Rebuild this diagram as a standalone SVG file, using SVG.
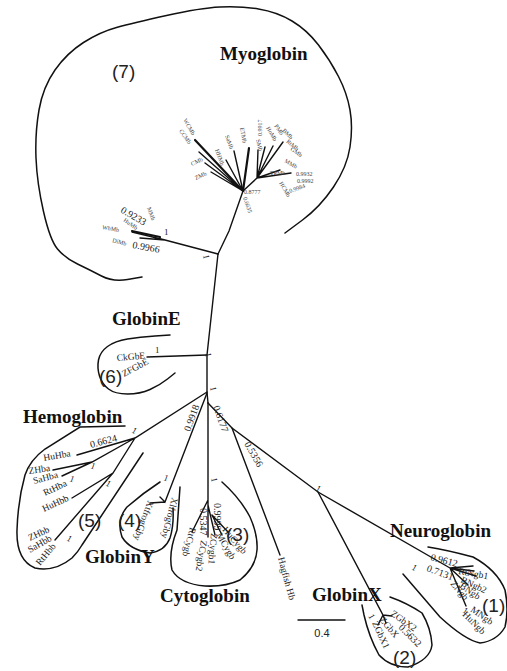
<svg xmlns="http://www.w3.org/2000/svg" width="507" height="671" viewBox="0 0 507 671">
<style>
.br{stroke:#111;stroke-width:1.4;fill:none;stroke-linecap:round}
.bt{stroke:#111;stroke-width:2.2;fill:none;stroke-linecap:round}
.ol{stroke:#111;stroke-width:1.5;fill:none;stroke-linecap:round}
.big{font-family:"Liberation Serif",serif;font-weight:bold;font-size:19px;fill:#111}
.num{font-family:"Liberation Sans",sans-serif;font-size:19px;fill:#222}
.lb{font-family:"Liberation Serif",serif;font-size:9.5px;fill:#222}
.nm{font-family:"Liberation Serif",serif;font-size:10px;fill:#222}
.tk{font-family:"Liberation Serif",serif;font-size:9px;fill:#222}
.sm{font-family:"Liberation Serif",serif;font-size:6px;fill:#444}
</style>
<rect width="507" height="671" fill="#fff"/>
<g id="connectors">
<path class="br" d="M218,254 L207,355 L207,392 L208,403"/>
<path class="br" d="M243,191 L229,231 L218,254"/>
<path class="br" d="M243,191 L199,152 M243,191 L205,163 M243,191 L211,172 M243,191 L226,160 M243,191 L234,151 M243,191 L257,178 M257,178 L258,150 M257,178 L265,147 M257,178 L273,146 M257,178 L283,142 M257,178 L291,173 M257,178 L280,170 M257,178 L270,160"/>
<path class="bt" d="M243,191 L195,140 M243,191 L249,148"/>
<path class="br" d="M218,254 L165,240 L132,232 M165,240 L140,238"/>
<path class="bt" d="M160,237 L132,231"/>
<path class="br" d="M207,355 L147,357"/>
<path class="br" d="M207,392 L135,438 L77,455 M135,438 L92,462 L53,470 M92,462 L62,476 M135,438 L113,473 L72,498 M113,473 L55,540"/>
<path class="br" d="M207,393 L165,502 L160,497 M165,502 L150,503"/>
<path class="br" d="M208,403 L208,537 M208,500 L192,532 M208,505 L215,535 M212,515 L222,535 M212,515 L228,532"/>
<path class="br" d="M208,403 L232,428 L318,492 L450,568 M450,568 L473,566 M450,568 L474,571 M450,568 L476,576 M450,568 L468,585 M450,568 L466,606"/>
<path class="br" d="M232,428 L280,555"/>
<path class="br" d="M318,492 L383,615 L392,616 M383,615 L386,623 M383,615 L378,625"/>
</g>
<g id="myoglobin">
<path class="ol" d="M285,233 L302.5,220 Q320,207 333.5,187 Q347,167 350,147 Q353,127 350,110 Q347,93 338.5,76.5 Q330,60 318.5,45 Q307,30 292,21 Q277,12 258.5,9 Q240,6 220,7 Q200,8 166.5,15.5 Q133,23 116.5,27.5 Q100,32 83.5,42.5 Q67,53 55,70 Q43,87 39,110 Q35,133 36,158 Q37,183 43.5,211.5 Q50,240 57.5,249 Q65,258 77.5,264 Q90,270 101.5,276 Q113,282 127.5,279.5 L142,277"/>
<text class="big" x="220" y="60">Myoglobin</text>
<text class="num" x="112" y="78">(7)</text>
<text class="sm" x="183" y="120" transform="rotate(60 183 120)">WCMb</text>
<text class="sm" x="179" y="131" transform="rotate(55 179 131)">CCMb</text>
<text class="sm" x="192" y="166" transform="rotate(-25 192 166)">CMb</text>
<text class="sm" x="196" y="180" transform="rotate(-25 196 180)">ZMb</text>
<text class="sm" x="215" y="150" transform="rotate(70 215 150)">HHMb</text>
<text class="sm" x="225" y="136" transform="rotate(70 225 136)">SaMb</text>
<text class="sm" x="240" y="128" transform="rotate(80 240 128)">ETMb</text>
<text class="sm" x="262" y="136" transform="rotate(-90 262 136)">0.9917</text>
<text class="sm" x="266" y="128" transform="rotate(60 266 128)">HoMb</text>
<text class="sm" x="274" y="126" transform="rotate(55 274 126)">PMb</text>
<text class="sm" x="282" y="131" transform="rotate(45 282 131)">BMb</text>
<text class="sm" x="286" y="142" transform="rotate(40 286 142)">RtMb</text>
<text class="sm" x="256" y="140" transform="rotate(75 256 140)">SMb</text>
<text class="sm" x="290" y="150" transform="rotate(35 290 150)">GMb</text>
<text class="sm" x="270" y="175">TPMb</text>
<text class="sm" x="284" y="162" transform="rotate(30 284 162)">MMb</text>
<text class="sm" x="279" y="183" transform="rotate(60 279 183)">HCMb</text>
<text class="sm" x="296" y="176">0.9932</text>
<text class="sm" x="297" y="183">0.9992</text>
<text class="sm" x="290" y="193" transform="rotate(-20 290 193)">0.9984</text>
<text class="sm" x="244" y="194">0.8777</text>
<text class="sm" x="243" y="198" transform="rotate(70 243 198)">0.6635</text>
<text class="sm" x="102" y="229" transform="rotate(10 102 229)">WhMb</text>
<text class="sm" x="123" y="221" transform="rotate(35 123 221)">HuMb</text>
<text class="nm" x="120" y="212" transform="rotate(30 120 212)">0.9233</text>
<text class="sm" x="147" y="208" transform="rotate(70 147 208)">MMb</text>
<text class="sm" x="112" y="242" transform="rotate(15 112 242)">DiMb</text>
<text class="nm" x="132" y="248" transform="rotate(10 132 248)">0.9966</text>
<text class="tk" x="164" y="235">1</text>
<text class="tk" x="203" y="255" transform="rotate(80 203 255)">1</text>
</g>
<g id="globinE">
<path class="ol" d="M170,335 L155,336 Q140,337 127.5,339 Q115,341 107.5,346.5 Q100,352 98.5,360 Q97,368 99.5,376 Q102,384 108.5,389 Q115,394 127.5,394 Q140,394 150,389.5 Q160,385 167.5,379 L175,373"/>
<text class="big" x="112" y="325">GlobinE</text>
<text class="num" x="99" y="383">(6)</text>
<text class="lb" x="117" y="361" transform="rotate(-5 117 361)">CkGbE</text>
<text class="lb" x="124" y="377" transform="rotate(-28 124 377)">ZFGbE</text>
<text class="tk" x="155" y="353">1</text>
<text class="tk" x="205" y="353" transform="rotate(80 205 353)">1</text>
<text class="tk" x="210" y="387" transform="rotate(80 210 387)">1</text>
</g>
<g id="hemoglobin">
<path class="ol" d="M125,426 L80,427 L45,449 Q30,460 25,475 Q18,500 17,530 Q16,560 35,568 Q55,572 72,558 Q78,552 82,545 L143,453"/>
<text class="big" x="23" y="423">Hemoglobin</text>
<text class="num" x="78" y="527">(5)</text>
<text class="nm" x="91" y="448" transform="rotate(-15 91 448)">0.6624</text>
<text class="lb" x="44" y="461" transform="rotate(-10 44 461)">HuHba</text>
<text class="lb" x="29" y="474" transform="rotate(-8 29 474)">ZHba</text>
<text class="lb" x="34" y="484" transform="rotate(-15 34 484)">SaHba</text>
<text class="lb" x="45" y="496" transform="rotate(-25 45 496)">RtHba</text>
<text class="lb" x="44" y="512" transform="rotate(-25 44 512)">HuHbb</text>
<text class="lb" x="30" y="541" transform="rotate(-25 30 541)">ZHbb</text>
<text class="lb" x="30" y="553" transform="rotate(-30 30 553)">SaHbb</text>
<text class="lb" x="40" y="566" transform="rotate(-50 40 566)">RtHbb</text>
<text class="tk" x="131" y="432" transform="rotate(30 131 432)">1</text>
<text class="tk" x="90" y="468" transform="rotate(20 90 468)">1</text>
<text class="tk" x="69" y="481" transform="rotate(20 69 481)">1</text>
<text class="tk" x="105" y="485" transform="rotate(30 105 485)">1</text>
<text class="tk" x="66" y="540" transform="rotate(30 66 540)">1</text>
</g>
<g id="globinY">
<path class="ol" d="M160,482 Q143,493 127,507 Q116,520 122,537 Q130,550 150,553 Q165,551 170,538 Q174,525 173,508"/>
<text class="big" x="85" y="563">GlobinY</text>
<text class="num" x="118" y="527">(4)</text>
<text class="nm" x="190" y="432" transform="rotate(-70 190 432)">0.9918</text>
<text class="tk" x="163" y="480" transform="rotate(20 163 480)">1</text>
<text class="lb" x="172" y="497" transform="rotate(105 172 497)">XlfrogGby</text>
<text class="lb" x="148" y="500" transform="rotate(110 148 500)">XtfrogGby</text>
</g>
<g id="cytoglobin">
<path class="ol" d="M222,482 Q240,498 250,517 Q258,535 257,550 Q256,567 240,580 Q225,587 205,586 Q180,584 172,570 Q168,553 177,530 L180,487"/>
<text class="big" x="160" y="602">Cytoglobin</text>
<text class="num" x="226" y="541">(3)</text>
<text class="nm" x="214" y="503" transform="rotate(90 214 503)">0.9999</text>
<text class="nm" x="200" y="508" transform="rotate(90 200 508)">0.5347</text>
<text class="tk" x="211" y="478" transform="rotate(80 211 478)">1</text>
<text class="lb" x="190" y="527" transform="rotate(105 190 527)">RtCygb</text>
<text class="lb" x="201" y="540" transform="rotate(100 201 540)">ZCygb2</text>
<text class="lb" x="211" y="533" transform="rotate(95 211 533)">ZCygb1</text>
<text class="lb" x="216" y="535" transform="rotate(60 216 535)">MCygb</text>
<text class="lb" x="222" y="530" transform="rotate(50 222 530)">HuCygb</text>
</g>
<g id="hagfish">
<text class="nm" x="213" y="407" transform="rotate(70 213 407)">0.6177</text>
<text class="nm" x="244" y="444" transform="rotate(60 244 444)">0.5356</text>
<text class="lb" x="278" y="558" transform="rotate(75 278 558)">Hagfish Hb</text>
</g>
<g id="globinX">
<path class="ol" d="M390,597 Q407,603 422,613 Q431,628 432,645 Q430,660 408,667 Q390,667 379,655 Q369,637 364,615 L362,605"/>
<text class="big" x="312" y="601">GlobinX</text>
<text class="num" x="393" y="664">(2)</text>
<text class="tk" x="315" y="490" transform="rotate(30 315 490)">1</text>
<text class="lb" x="390" y="615" transform="rotate(35 390 615)">ZGbX2</text>
<text class="lb" x="379" y="620" transform="rotate(50 379 620)">ZGbX</text>
<text class="nm" x="398" y="628" transform="rotate(45 398 628)">0.5632</text>
<text class="lb" x="372" y="623" transform="rotate(65 372 623)">ZGbX1</text>
<text class="tk" x="368" y="616" transform="rotate(60 368 616)">1</text>
</g>
<g id="neuroglobin">
<path class="ol" d="M428,547 Q447,550 473,557 Q497,570 505,590 Q509,610 505,627 Q497,641 480,643 Q465,640 440,617 L403,574"/>
<text class="big" x="390" y="537">Neuroglobin</text>
<text class="num" x="482" y="612">(1)</text>
<text class="nm" x="430" y="560" transform="rotate(15 430 560)">0.9612</text>
<text class="nm" x="426" y="571" transform="rotate(20 426 571)">0.7131</text>
<text class="tk" x="411" y="569" transform="rotate(30 411 569)">1</text>
<text class="lb" x="458" y="574" transform="rotate(10 458 574)">RtNgb1</text>
<text class="lb" x="460" y="582" transform="rotate(25 460 582)">BNgb2</text>
<text class="lb" x="459" y="587" transform="rotate(35 459 587)">BNgb</text>
<text class="lb" x="450" y="584" transform="rotate(50 450 584)">ZNgb</text>
<text class="lb" x="470" y="611" transform="rotate(35 470 611)">MNgb</text>
<text class="lb" x="462" y="615" transform="rotate(45 462 615)">HuNgb</text>
<text class="tk" x="462" y="612" transform="rotate(30 462 612)">1</text>
</g>
<g id="scale">
<line class="br" x1="298" y1="620" x2="345" y2="620"/>
<text x="322" y="637" text-anchor="middle" font-family="Liberation Sans, sans-serif" font-size="11" fill="#222">0.4</text>
</g>
</svg>
